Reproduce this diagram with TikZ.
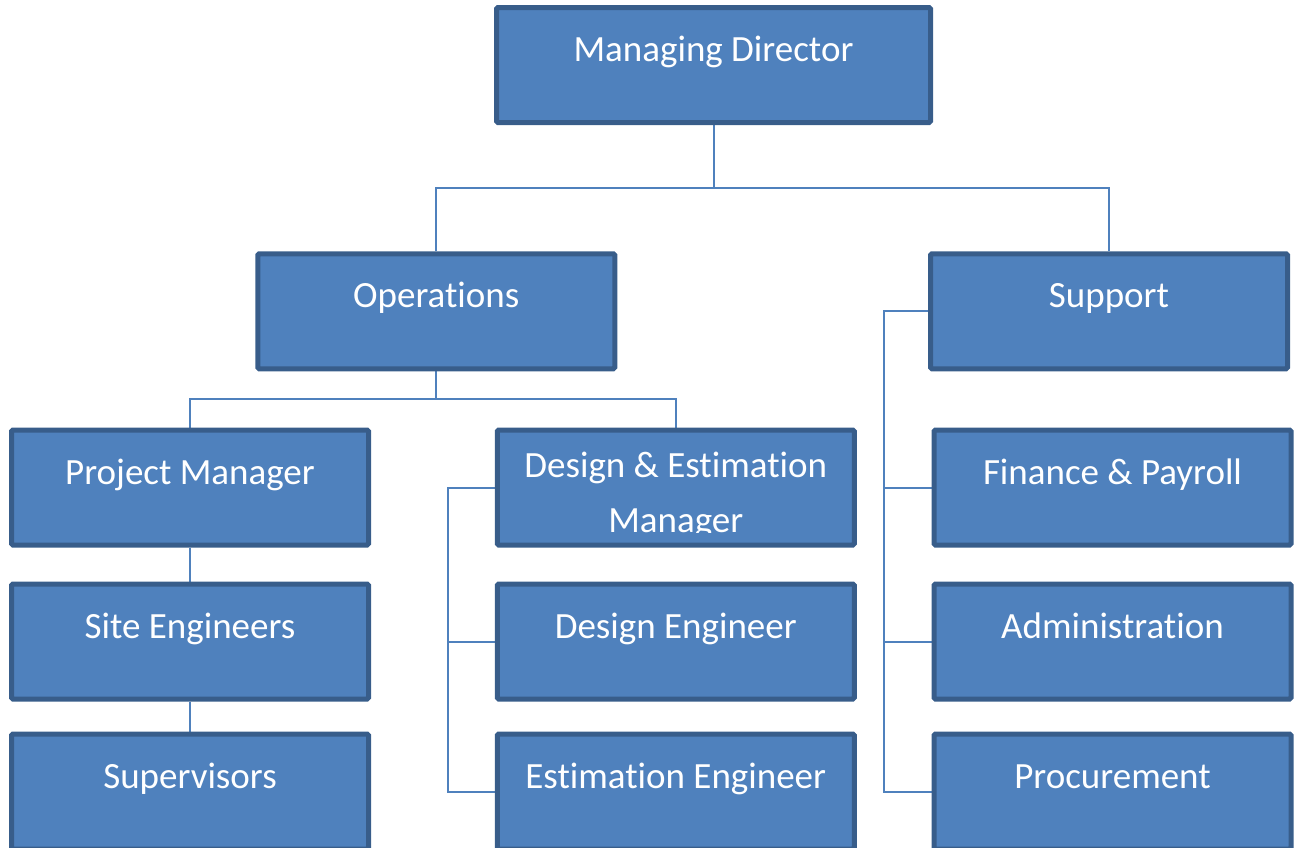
\documentclass[tikz,border=0pt]{standalone}
\usepackage{fontspec}
\setmainfont{Carlito}[RawFeature={-liga;-clig;-calt;-dlig}]
\usetikzlibrary{backgrounds}
\definecolor{boxfill}{HTML}{4F81BD}
\definecolor{boxedge}{HTML}{385D8A}
\definecolor{linecol}{HTML}{4F81BD}
\newcommand{\nolig}{\kern0pt{}}
\tikzset{
  orgbox/.style={draw=boxedge, fill=boxfill, line width=5pt, rounded corners=1.5pt,
    minimum width=357pt, minimum height=115pt, inner sep=0pt,
    text=white, font=\fontsize{37}{44}\selectfont,
    text height=30pt, text depth=37pt},
  boxtext/.style={text=white, font=\fontsize{37}{44}\selectfont, inner sep=0pt, anchor=base},
  conn/.style={draw=linecol, line width=2pt}
}
\begin{document}
\begin{tikzpicture}[x=1pt, y=-1pt]
\useasboundingbox (0,0) rectangle (1298,847);
\clip (0,0) rectangle (1298,847);
% row 0
\node[orgbox, minimum width=434pt] (md) at (713.5,65) {Managing Director};
% row 1
\node[orgbox] (ops) at (436.25,311.25) {Operat\nolig ions};
\node[orgbox] (sup) at (1109,311.25) {Support};
% row 2
\node[orgbox] (pm) at (190,487.5) {Project Manager};
\node[orgbox] (dem) at (675.75,487.5) {};
\node[orgbox] (fp) at (1112.5,487.5) {Finance \& Payroll};
% row 3
\node[orgbox] (se) at (190,641.5) {Site Engineers};
\node[orgbox] (de) at (675.75,641.5) {Design Engineer};
\node[orgbox] (ad) at (1112.5,641.5) {Administrat\nolig ion};
% row 4
\node[orgbox] (sv) at (190,791.5) {Supervisors};
\node[orgbox] (ee) at (675.75,791.5) {Estimat\nolig ion Engineer};
\node[orgbox] (pr) at (1112.5,791.5) {Procurement};
% clipped two-line text of the Design & Estimation Manager box
\begin{scope}
  \clip (497.5,432) rectangle (854,532.5);
  \node[boxtext] (demtxt1) at (675.75,477.5) {Design \& Estimat\nolig ion};
  \node[boxtext] (demtxt2) at (675.75,532) {Manager};
\end{scope}
% connectors
\coordinate (j1) at (713.5,188);
\coordinate (j2) at (436.25,399);
\coordinate (b1) at (448,0);
\coordinate (b2) at (884,0);
\begin{scope}[on background layer]
  \draw[conn] (md.south) -- (j1);
  \draw[conn] (ops.north) |- (j1) -| (sup.north);
  \draw[conn] (ops.south) -- (j2);
  \draw[conn] (pm.north) |- (j2) -| (dem.north);
  \draw[conn] (pm.south) -- (se.north);
  \draw[conn] (se.south) -- (sv.north);
  \draw[conn] (dem.west) -- (dem.west -| b1) |- (ee.west);
  \draw[conn] (de.west) -- (de.west -| b1);
  \draw[conn] (sup.west) -- (sup.west -| b2) |- (pr.west);
  \draw[conn] (fp.west) -- (fp.west -| b2);
  \draw[conn] (ad.west) -- (ad.west -| b2);
\end{scope}
\end{tikzpicture}
\end{document}
